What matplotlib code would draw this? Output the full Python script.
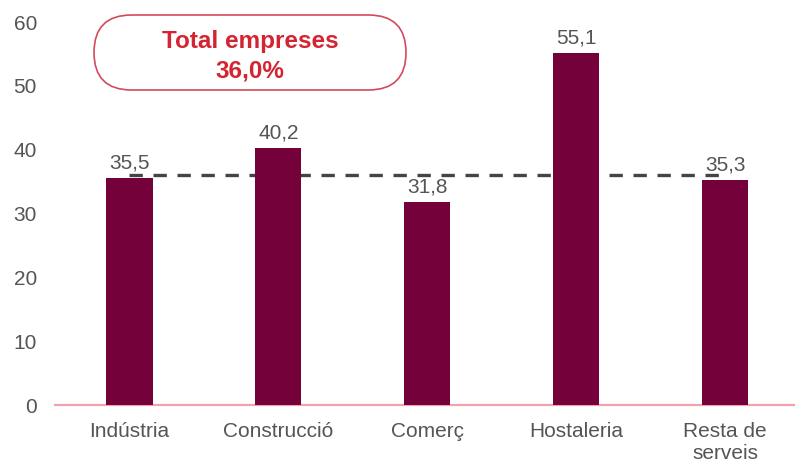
import matplotlib.pyplot as plt
from matplotlib.patches import FancyBboxPatch

categories = ["Indústria", "Construcció", "Comerç", "Hostaleria", "Resta de\nserveis"]
values = [35.5, 40.2, 31.8, 55.1, 35.3]
total = 36.0
yticks = [0, 10, 20, 30, 40, 50, 60]

plt.rcParams['font.family'] = ['Liberation Sans', 'DejaVu Sans']

fig = plt.figure(figsize=(7.95, 4.65), dpi=100)
ax = fig.add_axes([55 / 795, 1 - 405 / 465, 1 - 55 / 795, (405 - 22) / 465])

x = list(range(len(categories)))
bar_color = "#74013A"
ax.bar(x, values, width=0.31, color=bar_color, zorder=3)

# average reference line across sectors
ax.plot([x[0], x[-1]], [total, total], linestyle=(0, (4, 3.2)), color="#444444",
        linewidth=2.4, zorder=2)

for xi, v in zip(x, values):
    ax.annotate(f"{v:.1f}".replace(".", ","), (xi, v), xytext=(0, 4),
                textcoords="offset points", ha="center", va="bottom",
                fontsize=15, color="#555555")

ax.set_xlim(-0.5, 4.47)
ax.set_ylim(0, 60)
ax.set_yticks(yticks)
ax.set_yticklabels([str(t) for t in yticks])
ax.set_xticks(x)
ax.set_xticklabels(categories, linespacing=1.22)
ax.tick_params(axis="both", length=0, colors="#555555", labelsize=15)
ax.tick_params(axis="x", pad=12)
ax.tick_params(axis="y", pad=13)

for side in ["top", "right", "left"]:
    ax.spines[side].set_visible(False)
ax.spines["bottom"].set_color("#F2A2AC")
ax.spines["bottom"].set_linewidth(1.6)

# highlighted total, pill-shaped box laid out in inches
bx0, bx1 = 0.94, 4.06
by0, by1 = (465 - 90) / 100, (465 - 15) / 100
box = FancyBboxPatch((bx0, by0), bx1 - bx0, by1 - by0,
                     boxstyle=f"round,pad=0,rounding_size={(by1 - by0) / 2:.3f}",
                     transform=fig.dpi_scale_trans, facecolor="white",
                     edgecolor="#D44A5A", linewidth=1.2)
fig.patches.append(box)
fig.text(250 / 795, 1 - 56 / 465, "Total empreses\n36,0%", ha="center", va="center",
         fontsize=17.5, fontweight="bold", color="#D42432", linespacing=1.35)

fig.savefig("out.png", dpi=100)
